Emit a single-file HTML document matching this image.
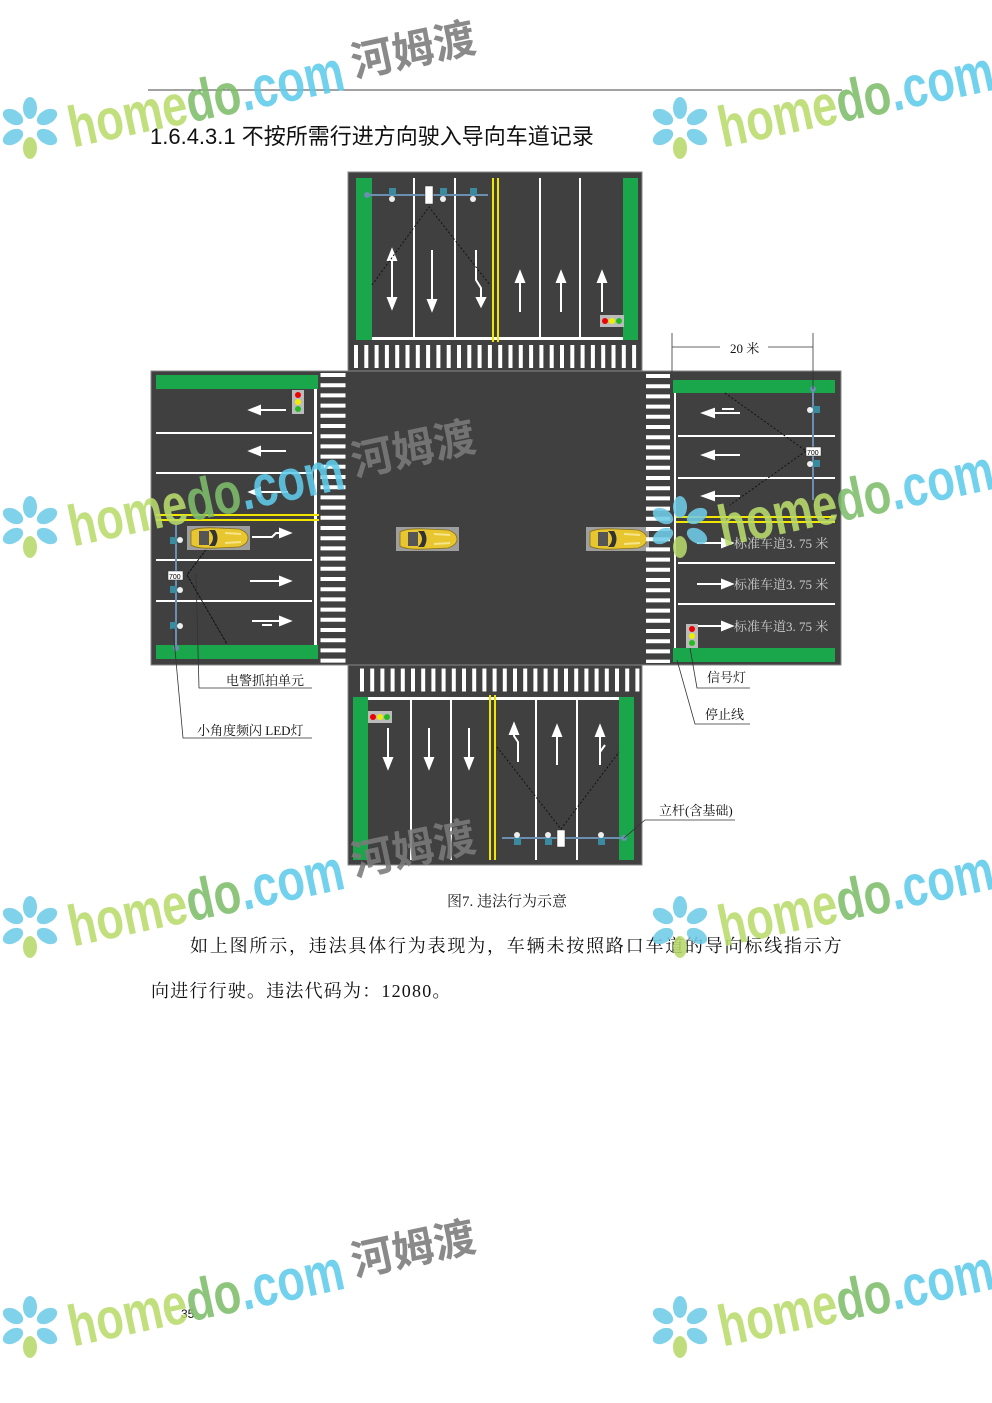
<!DOCTYPE html>
<html><head><meta charset="utf-8"><style>
html,body{margin:0;padding:0;background:#fff}
svg{display:block}
.s{font-family:"Liberation Serif","Noto Serif CJK SC","Noto Sans CJK SC",serif}
.h{font-family:"Liberation Sans","Noto Sans CJK SC",sans-serif}
</style></head><body>
<svg width="992" height="1403" viewBox="0 0 992 1403" xmlns="http://www.w3.org/2000/svg">
<defs>
<g id="car">
<rect x="0" y="0" width="63" height="24" fill="#ddd" opacity="0.6"/>
<path d="M4,5 Q10,1 30,2 L52,3 Q61,6 61,12 Q61,18 52,21 L30,22 Q10,23 4,19 Z" fill="#e8c630" stroke="#8a7010" stroke-width="0.8"/>
<path d="M12,5 L22,5 L22,19 L12,19 Z" fill="#555"/>
<path d="M22,4 Q30,12 22,20 L28,20 Q33,12 28,4 Z" fill="#333"/>
<path d="M38,7 L54,8 M38,17 L54,16" stroke="#f6e58a" stroke-width="2"/>
</g>
<g id="tlv"><rect x="0" y="0" width="12" height="24" fill="#bbb"/><circle cx="6" cy="5" r="3" fill="#e00"/><circle cx="6" cy="12" r="3" fill="#ee0"/><circle cx="6" cy="19" r="3" fill="#2b2"/></g>
<g id="tlh"><rect x="0" y="0" width="24" height="12" fill="#bbb"/><circle cx="5" cy="6" r="3" fill="#e00"/><circle cx="12" cy="6" r="3" fill="#ee0"/><circle cx="19" cy="6" r="3" fill="#2b2"/></g>
<g id="wm">
<g fill="#6fcbe8">
<ellipse cx="0" cy="-20" rx="7" ry="11"/><ellipse cx="17" cy="-11" rx="7" ry="11" transform="rotate(60 17 -11)"/>
<ellipse cx="17" cy="9" rx="7" ry="11" transform="rotate(120 17 9)"/><ellipse cx="-17" cy="-11" rx="7" ry="11" transform="rotate(-60 -17 -11)"/>
<ellipse cx="-17" cy="9" rx="7" ry="11" transform="rotate(-120 -17 9)"/>
</g>
<ellipse cx="0" cy="20" rx="7" ry="11" fill="#b7d96a"/>
<g transform="rotate(-12)">
<text x="38" y="28" font-family="Liberation Sans, sans-serif" font-weight="bold" font-size="58" textLength="280" lengthAdjust="spacingAndGlyphs"><tspan fill="#b9dc6c">home</tspan><tspan fill="#7fbe6a">do</tspan><tspan fill="#5fcbea">.com</tspan></text>
<text x="328" y="18" font-family="Noto Sans CJK SC, sans-serif" font-weight="bold" font-size="42" fill="#7a7a7a">河姆渡</text>
</g>
</g>
</defs>

<line x1="148" y1="90" x2="842" y2="90" stroke="#444" stroke-width="1"/>
<text x="150" y="144" class="h" font-size="22" fill="#111">1.6.4.3.1 不按所需行进方向驶入导向车道记录</text>

<!-- roads -->
<rect x="348" y="172" width="294" height="693" fill="#404040" stroke="#888" stroke-width="1"/>
<rect x="151" y="371" width="690" height="294" fill="#404040" stroke="#888" stroke-width="1"/>

<!-- NORTH -->
<rect x="356" y="178" width="16" height="162" fill="#1aa64a"/>
<rect x="623" y="178" width="15" height="162" fill="#1aa64a"/>
<rect x="372" y="337" width="251" height="3" fill="#fff"/>
<g fill="#fff"><rect x="413" y="178" width="2" height="159"/><rect x="454" y="178" width="2" height="159"/><rect x="539" y="178" width="2" height="159"/><rect x="579" y="178" width="2" height="159"/></g>
<g fill="#f2e600"><rect x="492" y="178" width="2" height="164"/><rect x="497" y="178" width="2" height="164"/></g>
<line x1="354" y1="356.5" x2="640" y2="356.5" stroke="#fff" stroke-width="23" stroke-dasharray="4 6.3"/>
<g stroke="#fff" stroke-width="2" fill="#fff">
<line x1="392" y1="252" x2="392" y2="300"/><polygon points="388,298 396,298 392,308"/><polygon points="388,260 396,260 392,250"/>
<line x1="432" y1="250" x2="432" y2="302"/><polygon points="428,300 436,300 432,310"/>
<path d="M476,250 L476,280 L481,288 L481,300" fill="none"/><polygon points="477,298 485,298 481,306"/>
<line x1="520" y1="280" x2="520" y2="312"/><polygon points="516,282 524,282 520,272"/>
<line x1="561" y1="280" x2="561" y2="312"/><polygon points="557,282 565,282 561,272"/>
<line x1="602" y1="280" x2="602" y2="312"/><polygon points="598,282 606,282 602,272"/>
</g>
<use href="#tlh" x="600" y="315"/>
<line x1="367" y1="195" x2="488" y2="195" stroke="#6a8fb0" stroke-width="2"/><circle cx="367" cy="195" r="3" fill="#6a8fb0"/>
<g fill="#3a8aa0"><rect x="389" y="188" width="7" height="7"/><rect x="440" y="188" width="7" height="7"/><rect x="470" y="188" width="7" height="7"/></g>
<g fill="#eee"><ellipse cx="392" cy="199" rx="3" ry="3"/><ellipse cx="443" cy="199" rx="3" ry="3"/><ellipse cx="473" cy="199" rx="3" ry="3"/></g>
<rect x="425" y="186" width="8" height="18" fill="#fff" stroke="#333" stroke-width="0.5"/>
<polyline points="372,285 429,207 490,285" fill="none" stroke="#111" stroke-dasharray="2 2" stroke-width="1"/>

<!-- WEST -->
<rect x="156" y="375" width="162" height="14" fill="#1aa64a"/>
<rect x="156" y="645" width="162" height="14" fill="#1aa64a"/>
<rect x="314" y="389" width="3" height="256" fill="#fff"/>
<g fill="#fff"><rect x="156" y="432" width="156" height="2"/><rect x="156" y="472" width="156" height="2"/><rect x="156" y="559" width="156" height="2"/><rect x="156" y="600" width="156" height="2"/></g>
<g fill="#f2e600"><rect x="156" y="514" width="163" height="2"/><rect x="156" y="519" width="163" height="2"/></g>
<line x1="333" y1="373" x2="333" y2="664" stroke="#fff" stroke-width="25" stroke-dasharray="4 6.2"/>
<g stroke="#fff" stroke-width="2" fill="#fff">
<line x1="258" y1="410" x2="286" y2="410"/><polygon points="260,406 260,414 250,410"/>
<line x1="258" y1="451" x2="286" y2="451"/><polygon points="260,447 260,455 250,451"/>
<line x1="258" y1="492" x2="288" y2="492"/><polygon points="260,488 260,496 250,492"/>
<path d="M252,537 L272,537 L276,533 L282,533" fill="none"/><polygon points="280,529 280,537 290,533"/>
<line x1="250" y1="581" x2="282" y2="581"/><polygon points="280,577 280,585 290,581"/>
<line x1="252" y1="621" x2="282" y2="621"/><polygon points="280,617 280,625 290,621"/><path d="M262,625 L272,625" />
</g>
<use href="#tlv" x="292" y="390"/>
<line x1="176" y1="524" x2="176" y2="648" stroke="#6a8fb0" stroke-width="2"/><circle cx="176" cy="648" r="3" fill="#6a8fb0"/>
<g fill="#3a8aa0"><rect x="170" y="537" width="7" height="7"/><rect x="170" y="586" width="7" height="7"/><rect x="170" y="622" width="7" height="7"/></g>
<g fill="#eee"><circle cx="180" cy="540" r="3"/><circle cx="180" cy="590" r="3"/><circle cx="180" cy="626" r="3"/></g>
<rect x="168" y="571" width="15" height="9" fill="#fff" stroke="#333" stroke-width="0.5"/>
<text x="169" y="579" font-size="7" font-family="Liberation Sans">700</text>
<polyline points="223,527 187,575 227,644" fill="none" stroke="#111" stroke-width="1" stroke-dasharray="3 1"/>
<use href="#car" x="187" y="526"/>

<!-- CENTER cars -->
<use href="#car" x="396" y="527"/>
<use href="#car" x="586" y="527"/>

<!-- EAST -->
<rect x="673" y="380" width="162" height="13" fill="#1aa64a"/>
<rect x="673" y="648" width="162" height="14" fill="#1aa64a"/>
<rect x="674" y="393" width="2" height="255" fill="#fff"/>
<g fill="#fff"><rect x="678" y="435" width="157" height="2"/><rect x="678" y="477" width="157" height="2"/><rect x="678" y="562" width="157" height="2"/><rect x="678" y="603" width="157" height="2"/></g>
<g fill="#f2e600"><rect x="676" y="516" width="159" height="2"/><rect x="676" y="521" width="159" height="2"/></g>
<line x1="658" y1="374" x2="658" y2="663" stroke="#fff" stroke-width="24" stroke-dasharray="4 6.2"/>
<g stroke="#fff" stroke-width="2" fill="#fff">
<line x1="712" y1="413" x2="740" y2="413"/><polygon points="714,409 714,417 703,413"/><path d="M722,409 L734,409"/>
<line x1="712" y1="455" x2="740" y2="455"/><polygon points="714,451 714,459 703,455"/>
<line x1="712" y1="496" x2="740" y2="496"/><polygon points="714,492 714,500 703,496"/>
<line x1="697" y1="543" x2="724" y2="543"/><polygon points="722,539 722,547 732,543"/>
<line x1="697" y1="584" x2="724" y2="584"/><polygon points="722,580 722,588 732,584"/>
<line x1="697" y1="626" x2="724" y2="626"/><polygon points="722,622 722,630 732,626"/>
</g>
<g class="s" font-size="13" fill="#ccc"><text x="734" y="548">标准车道3. 75 米</text><text x="734" y="589">标准车道3. 75 米</text><text x="734" y="631">标准车道3. 75 米</text></g>
<use href="#tlv" x="686" y="624"/>
<line x1="813" y1="388" x2="813" y2="500" stroke="#6a8fb0" stroke-width="2"/><circle cx="813" cy="389" r="3" fill="#6a8fb0"/>
<g fill="#3a8aa0"><rect x="813" y="406" width="7" height="7"/><rect x="813" y="460" width="7" height="7"/></g>
<g fill="#eee"><circle cx="810" cy="410" r="3"/><circle cx="810" cy="464" r="3"/></g>
<rect x="806" y="447" width="15" height="9" fill="#fff" stroke="#333" stroke-width="0.5"/>
<text x="807" y="455" font-size="7" font-family="Liberation Sans">700</text>
<polyline points="725,393 806,451 730,505" fill="none" stroke="#111" stroke-width="1" stroke-dasharray="2 2"/>
<!-- dimension -->
<g stroke="#333" stroke-width="0.8"><line x1="672" y1="333" x2="672" y2="372"/><line x1="813" y1="333" x2="813" y2="389"/><line x1="672" y1="347" x2="720" y2="347"/><line x1="768" y1="347" x2="813" y2="347"/></g>
<text x="730" y="353" class="s" font-size="13" fill="#111">20 米</text>

<!-- SOUTH -->
<rect x="353" y="697" width="15" height="163" fill="#1aa64a"/>
<rect x="619" y="697" width="15" height="163" fill="#1aa64a"/>
<rect x="368" y="697" width="251" height="3" fill="#fff"/>
<g fill="#fff"><rect x="410" y="700" width="2" height="160"/><rect x="450" y="700" width="2" height="160"/><rect x="535" y="700" width="2" height="160"/><rect x="576" y="700" width="2" height="160"/></g>
<g fill="#f2e600"><rect x="489" y="695" width="2" height="165"/><rect x="494" y="695" width="2" height="165"/></g>
<line x1="360" y1="680" x2="640" y2="680" stroke="#fff" stroke-width="23" stroke-dasharray="4 6.2"/>
<g stroke="#fff" stroke-width="2" fill="#fff">
<line x1="388" y1="728" x2="388" y2="760"/><polygon points="384,758 392,758 388,768"/>
<line x1="429" y1="728" x2="429" y2="760"/><polygon points="425,758 433,758 429,768"/>
<line x1="469" y1="728" x2="469" y2="760"/><polygon points="465,758 473,758 469,768"/>
<path d="M518,762 L518,742 L514,736 L514,730" fill="none"/><polygon points="510,734 518,734 514,724"/>
<line x1="557" y1="734" x2="557" y2="765"/><polygon points="553,736 561,736 557,726"/>
<line x1="600" y1="734" x2="600" y2="765"/><polygon points="596,736 604,736 600,726"/><path d="M600,752 L605,745"/>
</g>
<use href="#tlh" x="368" y="711"/>
<line x1="502" y1="838" x2="624" y2="838" stroke="#6a8fb0" stroke-width="2"/><circle cx="624" cy="838" r="3" fill="#6a8fb0"/>
<g fill="#3a8aa0"><rect x="514" y="838" width="7" height="7"/><rect x="545" y="838" width="7" height="7"/><rect x="598" y="838" width="7" height="7"/></g>
<g fill="#eee"><circle cx="517" cy="835" r="3"/><circle cx="548" cy="835" r="3"/><circle cx="601" cy="835" r="3"/></g>
<rect x="557" y="830" width="8" height="17" fill="#fff" stroke="#333" stroke-width="0.5"/>
<polyline points="497,747 561,829 619,752" fill="none" stroke="#111" stroke-width="1" stroke-dasharray="2 2"/>

<!-- callouts -->
<g stroke="#333" stroke-width="0.8" fill="none">
<polyline points="196,574 199,688 312,688"/>
<polyline points="173,628 183,738 312,738"/>
<polyline points="690,648 697,688 750,688"/>
<polyline points="677,660 695,724 750,724"/>
<polyline points="624,838 645,820 735,820"/>
</g>
<g class="s" font-size="13" fill="#111">
<text x="226" y="685">电警抓拍单元</text>
<text x="197" y="735">小角度频闪 LED灯</text>
<text x="707" y="682">信号灯</text>
<text x="705" y="719">停止线</text>
<text x="659" y="815">立杆(含基础)</text>
</g>

<text x="447" y="906" class="s" font-size="15" fill="#222">图7. 违法行为示意</text>
<text x="190" y="952" class="s" font-size="18" letter-spacing="1.8" fill="#111">如上图所示，违法具体行为表现为，车辆未按照路口车道的导向标线指示方</text>
<text x="151" y="997" class="s" font-size="18" letter-spacing="1.2" fill="#111">向进行行驶。违法代码为：12080。</text>
<text x="181" y="1318" class="h" font-size="12" fill="#111">35</text>

<!-- watermarks -->
<g opacity="0.88">
<use href="#wm" transform="translate(30,128)"/>
<use href="#wm" transform="translate(680,128)"/>
<use href="#wm" transform="translate(30,527)"/>
<use href="#wm" transform="translate(680,527)"/>
<use href="#wm" transform="translate(30,927)"/>
<use href="#wm" transform="translate(680,927)"/>
<use href="#wm" transform="translate(30,1327)"/>
<use href="#wm" transform="translate(680,1327)"/>
</g>
</svg>
</body></html>
